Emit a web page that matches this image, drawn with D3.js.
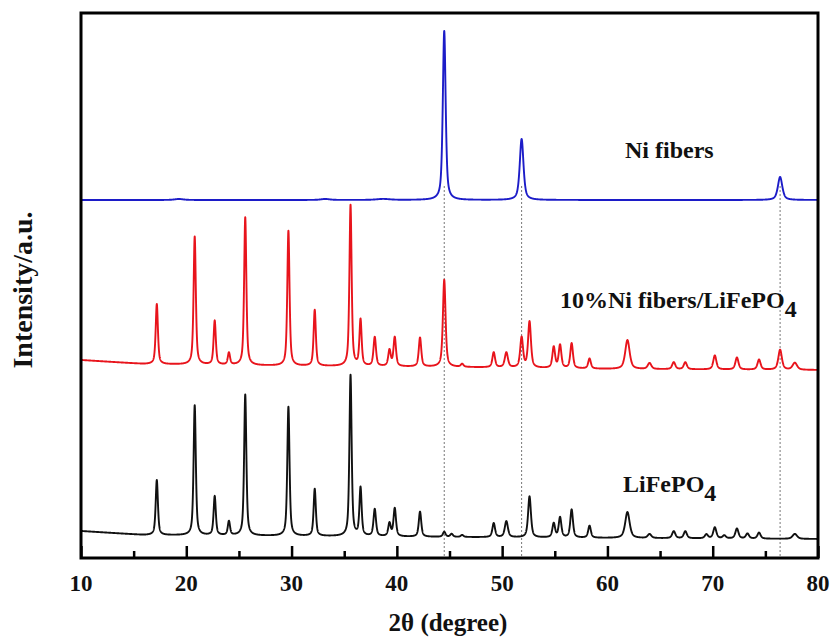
<!DOCTYPE html>
<html><head><meta charset="utf-8">
<script src="https://cdn.jsdelivr.net/npm/d3@7"></script>
<style>body{margin:0;background:#fff}svg{display:block}text{font-family:"Liberation Serif","Times New Roman",serif;font-weight:bold;fill:#111}</style>
</head><body>
<script>
// ---- data ----
const xTicks = [10,20,30,40,50,60,70,80];
const xMinorTicks = [15,25,35,45,55,65,75];
const refLines = [44.5, 51.85, 76.4];           // Ni reflections (dotted guides)
// baseline levels [2theta, intensity a.u.]
const baseLFP = [[10,27],[13,25],[16,23],[30,22],[45,21],[60,20],[80,19]];
const baseMix = [[10,198],[13,196],[16,194],[30,192],[45,191],[60,189],[80,188]];
const baseNi  = [[10,358],[80,358]];
// peaks [2theta, height a.u., FWHM deg]
const peaksLFP = [[17.2,55,.25],[20.8,130,.25],[22.7,39,.25],[24.05,14,.25],[25.6,141,.25],[29.7,129,.25],[32.2,47,.25],[35.6,161,.25],[36.55,48,.25],[37.9,27,.28],[39.3,13,.28],[39.8,28,.28],[42.2,25,.28],[44.5,5,.3],[45.2,3,.3],[46.2,2,.3],[49.2,14,.3],[50.4,16,.35],[52.6,41,.32],[54.9,14,.3],[55.5,20,.3],[56.6,28,.3],[58.3,12,.3],[61.9,26,.5],[64.0,4,.4],[66.3,7,.35],[67.4,7,.35],[69.4,4,.35],[70.2,11,.35],[71.1,3,.35],[72.3,10,.35],[73.3,5,.35],[74.4,6,.35],[77.8,5,.5]];
const peaksMix = [[17.2,60,.25],[20.8,128,.25],[22.7,44,.25],[24.05,12,.25],[25.6,148,.25],[29.7,135,.25],[32.2,56,.25],[35.6,161,.25],[36.55,46,.25],[37.9,29,.28],[39.3,16,.28],[39.8,29,.28],[42.2,29,.28],[44.5,87,.3],[46.2,3,.3],[49.2,15,.3],[50.4,15,.35],[51.85,30,.32],[52.6,46,.32],[54.9,21,.3],[55.5,23,.3],[56.6,25,.3],[58.3,10,.3],[61.9,29,.5],[64.0,6,.4],[66.3,7,.35],[67.4,7,.35],[70.2,14,.35],[72.3,12,.35],[74.4,10,.35],[76.4,20,.4],[77.8,7,.5]];
const peaksNi = [[19.3,1,1.0],[33.2,1,1.0],[38.7,1,1.5],[44.5,169,.32],[51.85,61,.42],[76.4,23,.5]];
const seriesNames = ["LiFePO4","10%Ni fibers/LiFePO4","Ni fibers"];
const seriesColors = ["#111111","#e8141c","#1c1cc8"];

// ---- layout ----
const W=831,H=640, L=81,R=818,T=13,B=558;
const x = d3.scaleLinear().domain([10,80]).range([L,R]);
const y = d3.scaleLinear().domain([0,545]).range([B,T]);
const svg = d3.select("body").append("svg").attr("width",W).attr("height",H);

function profile(base, peaks){
  const bg = d3.scaleLinear().domain(base.map(d=>d[0])).range(base.map(d=>d[1]));
  const pts=[];
  for(let i=0;i<=7000;i++){
    const t = 10 + i*0.01;
    let v = bg(t);
    for(const [p,h,w] of peaks){
      const z = (t-p)/(w/2);
      v += h*(0.6/(1+z*z) + 0.4*Math.exp(-Math.LN2*z*z));
    }
    pts.push([t,v]);
  }
  return pts;
}
const curves = [profile(baseLFP,peaksLFP), profile(baseMix,peaksMix), profile(baseNi,peaksNi)];

// dotted guides
svg.append("g").selectAll("line").data(refLines).join("line")
  .attr("x1",d=>x(d)).attr("x2",d=>x(d)).attr("y1",y(372)).attr("y2",B)
  .attr("stroke","#777").attr("stroke-width",1).attr("stroke-dasharray","2,2");

const line = d3.line().x(d=>x(d[0])).y(d=>y(d[1]));
svg.append("g").selectAll("path").data(curves).join("path")
  .attr("d",line).attr("fill","none")
  .attr("stroke",(d,i)=>seriesColors[i]).attr("stroke-width",1.9).attr("stroke-linejoin","round");

// frame
svg.append("rect").attr("x",L).attr("y",T).attr("width",R-L).attr("height",B-T)
  .attr("fill","none").attr("stroke","#000").attr("stroke-width",3);

// ticks (inward, bottom)
const ax = svg.append("g").attr("transform",`translate(0,${B})`)
  .call(d3.axisBottom(x).tickValues(xTicks).tickSize(-12).tickFormat(""));
ax.select(".domain").remove();
ax.selectAll("line").attr("stroke","#000").attr("stroke-width",2.5);
const axm = svg.append("g").attr("transform",`translate(0,${B})`)
  .call(d3.axisBottom(x).tickValues(xMinorTicks).tickSize(-7).tickFormat(""));
axm.select(".domain").remove();
axm.selectAll("line").attr("stroke","#000").attr("stroke-width",2.5);

svg.append("g").selectAll("text").data(xTicks).join("text")
  .attr("x",d=>x(d)).attr("y",591).attr("text-anchor","middle")
  .style("font-size","23px").text(d=>d);

svg.append("text").attr("x",448).attr("y",631).attr("text-anchor","middle")
  .style("font-size","25px").text("2θ (degree)");
svg.append("text").attr("transform","translate(32,290) rotate(-90)")
  .attr("text-anchor","middle").style("font-size","28px").text("Intensity/a.u.");

// series labels
function label(txt, xx, yy){
  const t = svg.append("text").attr("x",xx).attr("y",yy).style("font-size","24px");
  const m = txt.match(/^(.*PO)(4)$/);
  if(m){ t.append("tspan").text(m[1]); t.append("tspan").attr("dy",9).text(m[2]); }
  else t.text(txt);
}
label(seriesNames[2], 625, 158);
label(seriesNames[1], 560, 308);
label(seriesNames[0], 623, 492);
</script>
</body></html>
